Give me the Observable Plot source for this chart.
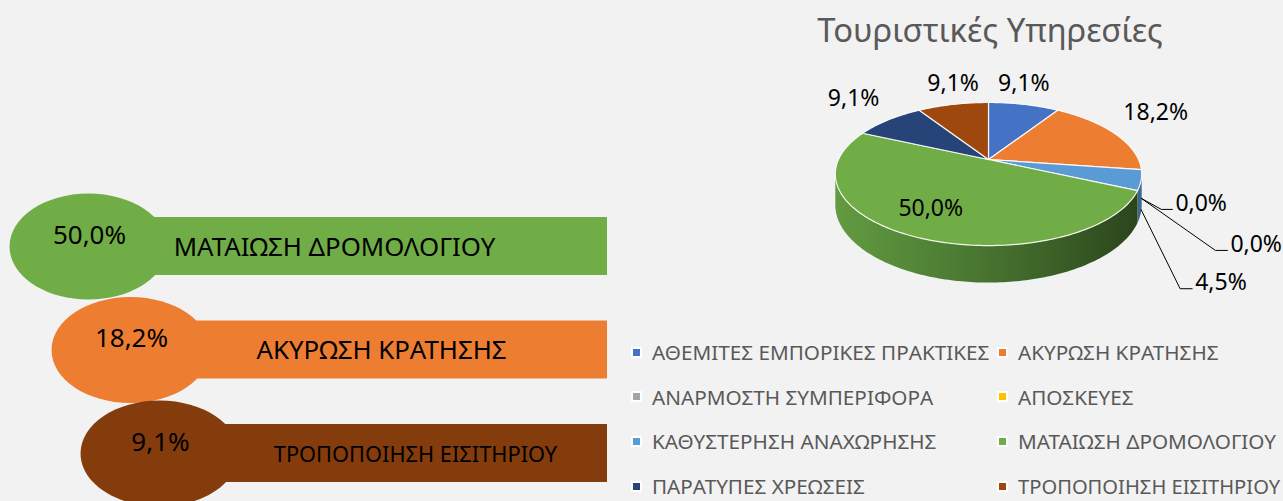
<!DOCTYPE html>
<html>
<head>
<meta charset="utf-8">
<script src="https://cdn.jsdelivr.net/npm/d3@7"></script>
<script src="https://cdn.jsdelivr.net/npm/@observablehq/plot@0.6"></script>
<style>
  html, body { margin: 0; padding: 0; background: #F2F2F2; }
  #root { position: relative; width: 1283px; height: 501px; overflow: hidden; background: #F2F2F2; font-family: "Noto Sans", sans-serif; }
  #title { position: absolute; left: 740px; width: 500px; top: 10px; line-height: 40px; text-align: center; font-size: 32.8px; color: #595959; white-space: nowrap; }
  #legend { position: absolute; left: 631px; top: 330px; display: grid; grid-template-columns: 366px 280px; grid-auto-rows: 44.6px; }
  .li { display: flex; align-items: center; white-space: nowrap; font-size: 20.7px; line-height: 20px; color: #595959; }
  .sw { width: 7px; height: 7px; border: 2px solid #ffffff; margin-right: 10px; flex: none; }
  svg.pl { position: absolute; overflow: visible; }
</style>
</head>
<body>
<div id="root"></div>
<script>
// ---------------- data ----------------
const title = "Τουριστικές Υπηρεσίες";
const categories = [
  "ΑΘΕΜΙΤΕΣ ΕΜΠΟΡΙΚΕΣ ΠΡΑΚΤΙΚΕΣ",
  "ΑΚΥΡΩΣΗ ΚΡΑΤΗΣΗΣ",
  "ΑΝΑΡΜΟΣΤΗ ΣΥΜΠΕΡΙΦΟΡΑ",
  "ΑΠΟΣΚΕΥΕΣ",
  "ΚΑΘΥΣΤΕΡΗΣΗ ΑΝΑΧΩΡΗΣΗΣ",
  "ΜΑΤΑΙΩΣΗ ΔΡΟΜΟΛΟΓΙΟΥ",
  "ΠΑΡΑΤΥΠΕΣ ΧΡΕΩΣΕΙΣ",
  "ΤΡΟΠΟΠΟΙΗΣΗ ΕΙΣΙΤΗΡΙΟΥ"
];
const counts = [2, 4, 0, 0, 1, 11, 2, 2];
const colors = ["#4472C4", "#ED7D31", "#A5A5A5", "#FFC000", "#5B9BD5", "#70AD47", "#264478", "#9E480E"];
// highlighted categories in the left panel
const featured = ["ΜΑΤΑΙΩΣΗ ΔΡΟΜΟΛΟΓΙΟΥ", "ΑΚΥΡΩΣΗ ΚΡΑΤΗΣΗΣ", "ΤΡΟΠΟΠΟΙΗΣΗ ΕΙΣΙΤΗΡΙΟΥ"];
const featuredColors = ["#70AD47", "#ED7D31", "#843C0C"];

// ---------------- layout / style (not data) ----------------
const FONT = "Noto Sans";
const K = -0.203, AX = 150, AY = 68.6, T0 = 29.5;
const leaderLayout = [
  {dx: 20, dy: 11, len: 11},
  {dx: 74, dy: 52, len: 12},
  {dx: 39, dy: 79, len: 12}
];
const ellipseX = [88, 130, 159];
const barEnd = 607;
const labelX = [334, 381, 415];
const labelSize = [25.8, 25.8, 21.8];

// ---------------- derived ----------------
const total = d3.sum(counts);
const rows = categories.map((c, i) => ({category: c, count: counts[i], share: counts[i] / total, color: colors[i]}));
const fmt = v => (v * 100).toFixed(1).replace(".", ",") + "%";
const root = document.getElementById("root");
const mctx = document.createElement("canvas").getContext("2d");
function textW(s, size) { mctx.font = `${size}px "${FONT}"`; return mctx.measureText(s).width; }

const tDiv = document.createElement("div");
tDiv.id = "title"; tDiv.textContent = title; root.appendChild(tDiv);

// ---------------- pie ----------------
function proj(theta, r = 1, depth = 0) {
  const u = r * Math.sin(theta), v = -r * Math.cos(theta);
  const d = 1 + K * v;
  return [AX * u / d, (AY * v + T0 * depth) / d];
}
function arcPts(a0, a1, r, depth) {
  const n = Math.max(2, Math.ceil((a1 - a0) / (Math.PI / 180)) + 1);
  return d3.range(n).map(j => proj(a0 + (a1 - a0) * j / (n - 1), r, depth));
}
const arcs = d3.pie().sort(null).value(d => d.count).startAngle(0).endAngle(2 * Math.PI)(rows);
const tang = Math.acos(K);
const TA0 = tang, TA1 = 2 * Math.PI - tang;

const wallMarks = [];
const topMarks = [];
arcs.forEach(a => {
  if (a.value <= 0) return;
  const s = Math.max(a.startAngle, TA0), e = Math.min(a.endAngle, TA1);
  if (s < e) {
    const pts = [...arcPts(s, e, 1, 0), ...arcPts(s, e, 1, 1).reverse()];
    const isGreen = a.data.color === "#70AD47";
    wallMarks.push(Plot.line(pts, {
      x: d => d[0], y: d => d[1],
      fill: isGreen ? "url(#wallGreen)" : d3.color(a.data.color).darker(1.1).formatHex(),
      stroke: "none"
    }));
  }
  const tp = [[0, 0], ...arcPts(a.startAngle, a.endAngle, 1, 0), [0, 0]];
  topMarks.push(Plot.line(tp, {
    x: d => d[0], y: d => d[1], fill: a.data.color,
    stroke: "#ffffff", strokeWidth: 1.2, strokeOpacity: 0.9, strokeLinejoin: "round"
  }));
});

const LABEL_SIZE = 23;
const mainLabels = [];
const leaderLines = [];
const leaderLabels = [];
let li = 0;
arcs.forEach(a => {
  const mid = (a.startAngle + a.endAngle) / 2;
  const sh = a.data.share;
  const txt = fmt(sh);
  if (sh >= 0.3) {
    const p = proj(mid, 0.72);
    mainLabels.push({x: p[0] - 6, y: p[1] - 3, text: txt});
  } else if (sh >= 0.06) {
    const p = proj(mid, 1, 0);
    const sn = Math.sin(mid), cs = Math.cos(mid);
    const f = Math.max(0, Math.min(1, (Math.abs(sn) - 0.3) / 0.4));
    const w = textW(txt, LABEL_SIZE);
    mainLabels.push({x: p[0] + Math.sign(sn) * f * (w / 2 + 9), y: p[1] - Math.sign(cs) * 21, text: txt});
  } else {
    const L = leaderLayout[li];
    const an = proj(mid, 1, 0.95);
    const el = [an[0] + L.dx, an[1] + L.dy];
    const en = [el[0] + L.len, el[1]];
    [an, el, en].forEach(p => leaderLines.push({x: p[0], y: p[1], k: li}));
    leaderLabels.push({x: en[0] + 3, y: en[1] - 6, text: txt});
    li++;
  }
});

const pieLeft = 780, pieTop = 55, pieW = 503, pieH = 250, pcx = 988, pcy = 159;
const pie = Plot.plot({
  width: pieW, height: pieH,
  margin: 0,
  style: {background: "transparent", overflow: "visible"},
  x: {domain: [pieLeft - pcx, pieLeft + pieW - pcx], range: [0, pieW], axis: null},
  y: {domain: [pieTop - pcy, pieTop + pieH - pcy], range: [0, pieH], axis: null},
  marks: [
    ...wallMarks,
    ...topMarks,
    Plot.line(leaderLines, {x: "x", y: "y", z: "k", stroke: "#000", strokeWidth: 1}),
    Plot.text(mainLabels, {x: "x", y: "y", text: "text", fontSize: LABEL_SIZE, fontFamily: FONT, fill: "#000"}),
    Plot.text(leaderLabels, {x: "x", y: "y", text: "text", textAnchor: "start", fontSize: LABEL_SIZE, fontFamily: FONT, fill: "#000"})
  ]
});
pie.classList.add("pl");
pie.style.left = pieLeft + "px"; pie.style.top = pieTop + "px";
const defs = d3.select(pie).insert("defs", ":first-child");
const grad = defs.append("linearGradient").attr("id", "wallGreen").attr("x1", 0).attr("x2", 1).attr("y1", 0).attr("y2", 0);
[[0, "#629b41"], [0.35, "#4f8035"], [0.7, "#3c6228"], [1, "#2b451b"]].forEach(([o, c]) =>
  grad.append("stop").attr("offset", o).attr("stop-color", c));
root.appendChild(pie);

// ---------------- left infographic ----------------
const topRows = featured.map((name, r) => {
  const d = rows.find(x => x.category === name);
  return {...d, rank: r, fillc: featuredColors[r], ex: ellipseX[r], lx: labelX[r], fs: labelSize[r]};
});

const ellipseSymbol = {
  draw(ctx, size) {
    const ry = Math.sqrt(size / Math.PI), rx = ry * 1.49, k = 0.5523;
    ctx.moveTo(rx, 0);
    ctx.bezierCurveTo(rx, k * ry, k * rx, ry, 0, ry);
    ctx.bezierCurveTo(-k * rx, ry, -rx, k * ry, -rx, 0);
    ctx.bezierCurveTo(-rx, -k * ry, -k * rx, -ry, 0, -ry);
    ctx.bezierCurveTo(k * rx, -ry, rx, -k * ry, rx, 0);
    ctx.closePath();
  }
};

const leftTop = 185, leftW = 620, leftH = 316;
const leftPlot = Plot.plot({
  width: leftW, height: leftH, margin: 0,
  style: {background: "transparent", overflow: "visible"},
  x: {domain: [0, leftW], range: [0, leftW], axis: null},
  y: {domain: [0, 2], range: [61, 268], axis: null},
  marks: [
    Plot.rect(topRows, {x1: "ex", x2: () => barEnd, y1: d => d.rank - 0.28, y2: d => d.rank + 0.28, fill: "fillc"}),
    Plot.dot(topRows, {x: "ex", y: "rank", r: 53, symbol: ellipseSymbol, fill: "fillc", stroke: "none"}),
    Plot.text(topRows, {x: d => d.ex + 1, y: d => d.rank - 0.105, text: d => fmt(d.share), fontSize: 26, fontFamily: FONT, fill: "#000"}),
    ...topRows.map(d => Plot.text([d], {x: "lx", y: r => r.rank + 0.01, text: "category", fontSize: d.fs, fontFamily: FONT, fill: "#000"}))
  ]
});
leftPlot.classList.add("pl");
leftPlot.style.left = "0px"; leftPlot.style.top = leftTop + "px";
root.appendChild(leftPlot);

// ---------------- legend ----------------
const LEG_SIZE = 20.7, LEG_COL2_MAX = 262;
const lg = d3.select(root).append("div").attr("id", "legend");
const items = lg.selectAll("div").data(rows).join("div").attr("class", "li");
items.append("span").attr("class", "sw").style("background", d => d.color);
items.append("span").text(d => d.category)
  .style("font-size", (d, i) => {
    if (i % 2 === 1) {
      const w = textW(d.category, LEG_SIZE);
      if (w > LEG_COL2_MAX) return (LEG_SIZE * LEG_COL2_MAX / w).toFixed(2) + "px";
    }
    return LEG_SIZE + "px";
  });
</script>
</body>
</html>
